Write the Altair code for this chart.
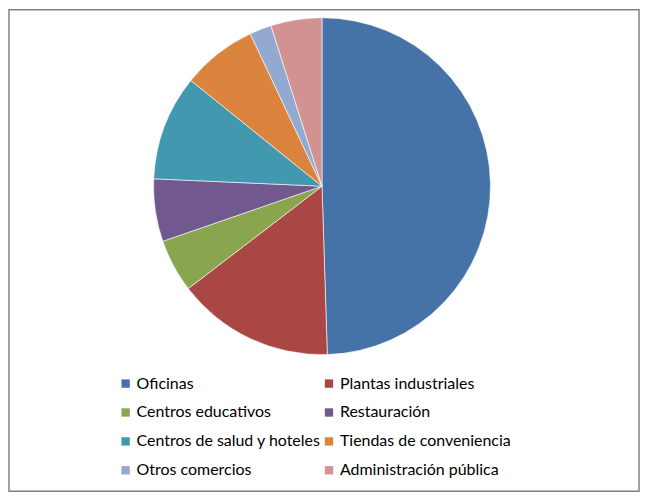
import altair as alt
import pandas as pd

categories = [
    "Oficinas",
    "Plantas industriales",
    "Centros educativos",
    "Restauración",
    "Centros de salud y hoteles",
    "Tiendas de conveniencia",
    "Otros comercios",
    "Administración pública",
]
values = [49.5, 15.1, 5.1, 6.0, 10.1, 7.2, 2.1, 4.9]
colors = ["#4572A7", "#AA4643", "#89A54E", "#71588F", "#4198AF", "#DB843D", "#93A9CF", "#D19392"]

df = pd.DataFrame({"categoria": categories, "valor": values, "orden": list(range(len(categories)))})

chart = alt.Chart(df).mark_arc(outerRadius=169, stroke="#ffffff", strokeWidth=0.6).encode(
    theta=alt.Theta("valor:Q", stack=True),
    order=alt.Order("orden:Q"),
    color=alt.Color(
        "categoria:N",
        sort=categories,
        scale=alt.Scale(domain=categories, range=colors),
        legend=alt.Legend(
            title=None,
            orient="none",
            direction="horizontal",
            legendX=109,
            legendY=367,
            columns=2,
            symbolType="square",
            symbolSize=70,
            symbolStrokeWidth=0,
            labelFont="Lato",
            labelFontSize=16,
            labelColor="#000000",
            labelOffset=3,
            rowPadding=13,
            columnPadding=0,
            labelLimit=400,
        ),
    ),
    x=alt.value(314),
    y=alt.value(177),
).properties(
    width=632,
    height=483,
    padding=1,
    autosize=alt.AutoSizeParams(type="none"),
).configure_view(stroke="#808080", strokeWidth=1.5)

chart.save("out.html", embed_options={"renderer": "svg", "actions": False})
